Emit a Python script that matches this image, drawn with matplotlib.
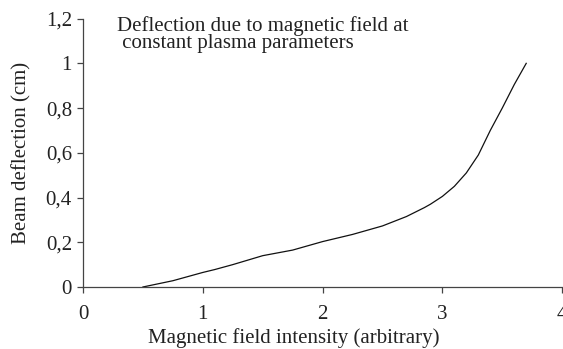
import matplotlib
matplotlib.use("Agg")
import matplotlib.pyplot as plt

field = [0.5, 0.75, 1.0, 1.1, 1.25, 1.5, 1.6, 1.75, 2.0, 2.25, 2.5, 2.7, 2.85, 2.9, 3.0, 3.1, 3.2, 3.3, 3.4, 3.5, 3.6, 3.7]
deflection = [0.0, 0.028, 0.065, 0.078, 0.1, 0.14, 0.15, 0.165, 0.203, 0.235, 0.273, 0.315, 0.355, 0.37, 0.405, 0.45, 0.51, 0.59, 0.7, 0.8, 0.905, 1.0]

xticks = [0, 1, 2, 3, 4]
yticks = [0, 0.2, 0.4, 0.6, 0.8, 1.0, 1.2]
ytick_labels = ["0", "0,2", "0,4", "0,6", "0,8", "1", "1,2"]

plt.rcParams['font.family'] = ['Liberation Serif', 'DejaVu Serif']
fig = plt.figure(figsize=(5.63, 3.49), dpi=100)
ax = fig.add_axes([0.1475, 0.1777, 0.851, 0.769])
ax.plot(field, deflection, color='#111111', lw=0.9)
ax.set_xlim(0, 4)
ax.set_ylim(0, 1.2)
ax.set_xticks(xticks)
ax.set_yticks(yticks)
ax.set_yticklabels(ytick_labels)
for s in ['top', 'right']:
    ax.spines[s].set_visible(False)
for s in ['left', 'bottom']:
    ax.spines[s].set_color('#444444')
    ax.spines[s].set_linewidth(0.9)
ax.tick_params(direction='out', length=4.5, width=0.9, color='#444444', labelsize=15,
               labelcolor='#222222')
ax.tick_params(axis='x', pad=8.5)
ax.tick_params(axis='y', pad=3.5)
ax.set_xlabel('Magnetic field intensity (arbitrary)', fontsize=15, color='#222222')
ax.xaxis.set_label_coords(0.44, -0.155, transform=ax.transAxes)
ax.xaxis.label.set_va('top')
ax.set_ylabel('Beam deflection (cm)', fontsize=15, labelpad=10, color='#222222')
ax.text(0.285, 1.21, 'Deflection due to magnetic field at\n constant plasma parameters', fontsize=15,
        va='top', ha='left', linespacing=0.82, color='#222222')
fig.savefig('out.png', dpi=100)
